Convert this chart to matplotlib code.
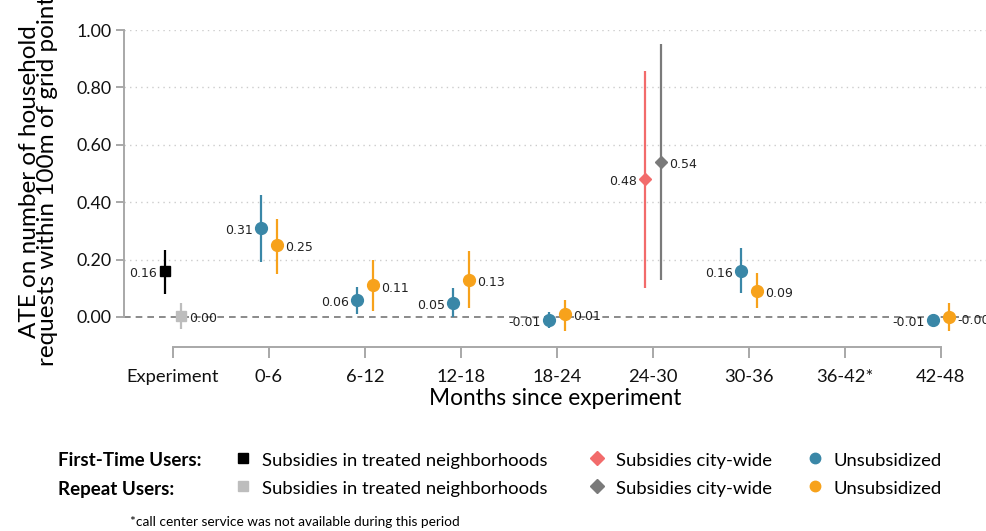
import matplotlib
matplotlib.use("Agg")
import matplotlib.pyplot as plt
from matplotlib.lines import Line2D

# ---- data ----
periods = ["Experiment", "0-6", "6-12", "12-18", "18-24", "24-30", "30-36", "36-42*", "42-48"]

treated_first = [0.16]
treated_first_lo = [0.08]
treated_first_hi = [0.233]
treated_repeat = [0.003]
treated_repeat_lo = [-0.042]
treated_repeat_hi = [0.049]
treated_periods = ["Experiment"]

city_first = [0.48]
city_first_lo = [0.10]
city_first_hi = [0.857]
city_repeat = [0.54]
city_repeat_lo = [0.129]
city_repeat_hi = [0.951]
city_periods = ["24-30"]

unsub_periods = ["0-6", "6-12", "12-18", "18-24", "30-36", "42-48"]
unsub_first = [0.31, 0.06, 0.05, -0.01, 0.16, -0.01]
unsub_first_lo = [0.19, 0.01, 0.0, -0.04, 0.083, -0.03]
unsub_first_hi = [0.425, 0.105, 0.10, 0.016, 0.24, 0.01]
unsub_repeat = [0.25, 0.11, 0.13, 0.01, 0.09, -0.002]
unsub_repeat_lo = [0.15, 0.02, 0.03, -0.05, 0.03, -0.05]
unsub_repeat_hi = [0.34, 0.20, 0.23, 0.06, 0.153, 0.048]

yticks = [0.0, 0.2, 0.4, 0.6, 0.8, 1.0]

BLACK = "#000000"
LGRAY = "#bdbdbd"
RED = "#f26b6b"
DGRAY = "#7a7a7a"
BLUE = "#3a87a7"
ORANGE = "#f7a21b"
SPINE = "#a8a8a8"

plt.rcParams["font.family"] = ["Lato", "DejaVu Sans"]

fig = plt.figure(figsize=(9.87, 5.31), dpi=100)
ax = fig.add_axes([124 / 987, 1 - 347 / 531, 1 - 124 / 987, (347 - 30) / 531])

off = 0.08


def draw(pers, vals, lo, hi, color, marker, ms, side):
    for p, v, l, h in zip(pers, vals, lo, hi):
        x = periods.index(p) + (-off if side == "left" else off)
        ax.plot([x, x], [l, h], color=color, lw=1.6, zorder=3, solid_capstyle="butt")
        ax.plot(x, v, marker=marker, color=color, ms=ms, mec=color, zorder=4, ls="none")
        if side == "left":
            ax.annotate(f"{v:.2f}", (x, v), xytext=(-6, -2), textcoords="offset points",
                        ha="right", va="center", fontsize=9, family="DejaVu Sans", color="#222222")
        else:
            ax.annotate(f"{v:.2f}", (x, v), xytext=(6, -2), textcoords="offset points",
                        ha="left", va="center", fontsize=9, family="DejaVu Sans", color="#222222")


draw(treated_periods, treated_first, treated_first_lo, treated_first_hi, BLACK, "s", 7.5, "left")
draw(treated_periods, treated_repeat, treated_repeat_lo, treated_repeat_hi, LGRAY, "s", 7.5, "right")
draw(city_periods, city_first, city_first_lo, city_first_hi, RED, "D", 6.5, "left")
draw(city_periods, city_repeat, city_repeat_lo, city_repeat_hi, DGRAY, "D", 6.5, "right")
draw(unsub_periods, unsub_first, unsub_first_lo, unsub_first_hi, BLUE, "o", 8.5, "left")
draw(unsub_periods, unsub_repeat, unsub_repeat_lo, unsub_repeat_hi, ORANGE, "o", 8.5, "right")

ax.axhline(0, color="#777777", lw=1.2, ls=(0, (4, 3)), zorder=1)
for t in yticks[1:]:
    ax.axhline(t, color="#cccccc", lw=1, ls=(0, (1, 3)), zorder=0)

ax.set_xlim(-0.51, 8.48)
ax.set_ylim(-0.105, 1.0)
ax.set_xticks(range(len(periods)))
ax.set_xticklabels(periods, fontsize=13.2)
ax.set_yticks(yticks)
ax.set_yticklabels([f"{t:.2f}" for t in yticks], fontsize=12.8)

for s in ["top", "right"]:
    ax.spines[s].set_visible(False)
ax.spines["left"].set_bounds(0, 1)
ax.spines["bottom"].set_bounds(0, len(periods) - 1)
for s in ["left", "bottom"]:
    ax.spines[s].set_color(SPINE)
    ax.spines[s].set_linewidth(1.4)
ax.tick_params(axis="both", colors=SPINE, labelcolor="#111111", width=1.4)
ax.tick_params(axis="y", length=6, pad=3)
ax.tick_params(axis="x", length=8, pad=8)

ax.set_xlabel("Months since experiment", fontsize=16.3, labelpad=2)
ax.set_ylabel("ATE on number of household\nrequests within 100m of grid point",
              fontsize=17.5, linespacing=0.85)
ax.yaxis.set_label_coords(-0.076, 0.523)

# ---- legend ----
row_y = [461, 489]
row_names = ["First-Time Users:", "Repeat Users:"]
legend_items = [
    [(BLACK, "s", "Subsidies in treated neighborhoods"), (RED, "D", "Subsidies city-wide"), (BLUE, "o", "Unsubsidized")],
    [(LGRAY, "s", "Subsidies in treated neighborhoods"), (DGRAY, "D", "Subsidies city-wide"), (ORANGE, "o", "Unsubsidized")],
]
col_x = [243, 597, 815]
for ry, name, items in zip(row_y, row_names, legend_items):
    fig.text(58 / 987, 1 - ry / 531, name, fontsize=13.5, fontweight="bold", va="center")
    for cx, (c, m, lab) in zip(col_x, items):
        fig.add_artist(Line2D([cx / 987], [1 - (ry - 3) / 531], marker=m, color=c, ms=7 if m != "o" else 7.5,
                              ls="none", transform=fig.transFigure))
        fig.text((cx + 19) / 987, 1 - ry / 531, lab, fontsize=13.3, va="center")

fig.text(130 / 987, 1 - 522 / 531, "*call center service was not available during this period",
         fontsize=9.8, va="center")

fig.savefig("out.png", dpi=100)
